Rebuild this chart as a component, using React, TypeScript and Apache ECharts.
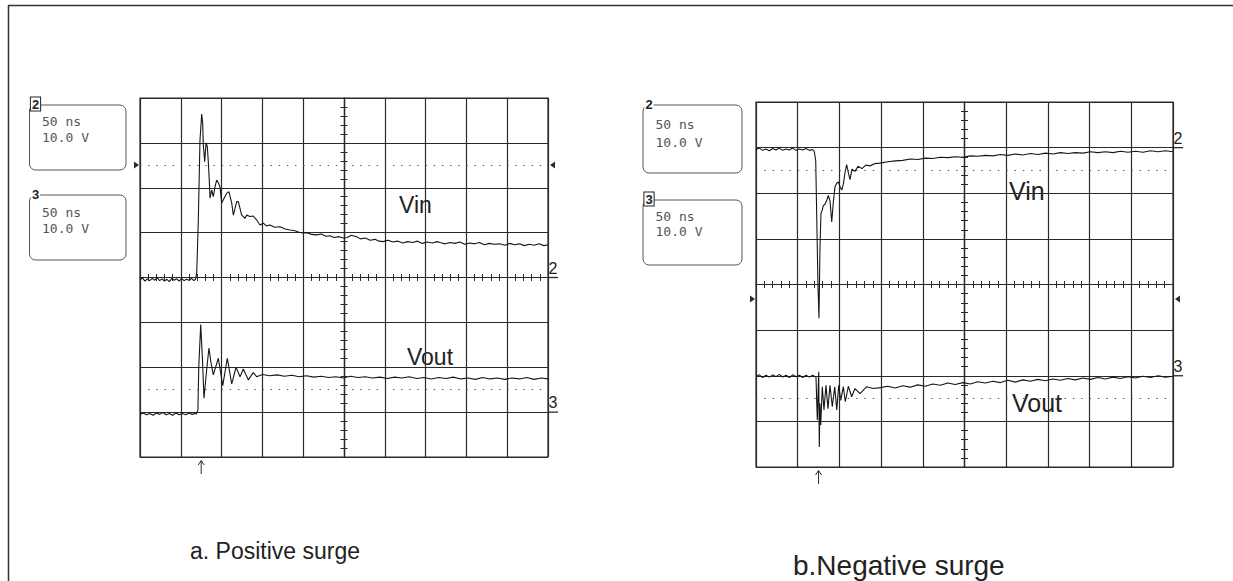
import React, { useEffect, useRef } from "react";
import * as echarts from "echarts";

// ---- data: time (ns, 50 ns/div) and voltage (V, 10 V/div) ----
const posVin: [number, number][] = [
  [-250, -0.5], [-247, -0.1], [-244, -0.8], [-241, -0.3], [-238, -0.7], [-235, -0.2], [-232, -0.6], [-229, 0.0],
  [-226, -0.7], [-223, -0.3], [-220, -0.8], [-217, -0.4], [-214, -0.9], [-211, -0.2], [-208, -0.6], [-205, -0.3],
  [-202, -0.8], [-199, -0.2], [-196, -0.7], [-193, -0.4], [-190, -0.6], [-187, -0.2], [-184, -0.7], [-182, -0.4],
  [-180.5, 1.0], [-178.6, 12.2], [-176.5, 30.6], [-174.4, 36.4], [-173.2, 34.4], [-172.4, 29.5], [-170.7, 25.8],
  [-169.1, 30.0], [-167.5, 29.2], [-166.3, 25.8], [-165.1, 21.7], [-164.2, 17.7], [-162.1, 19.5], [-160.2, 18.0],
  [-158.1, 20.2], [-156.0, 21.7], [-154.0, 21.1], [-152.0, 20.2], [-149.9, 16.6], [-147.9, 17.3], [-143.7, 18.8],
  [-140.9, 19.1], [-137.6, 16.6], [-135.6, 13.9], [-131.5, 16.9], [-129.5, 16.9], [-125.4, 13.9], [-121.3, 13.2],
  [-119.2, 13.9], [-115.2, 13.6], [-111.2, 13.7], [-107.0, 12.8], [-102.9, 11.7], [-98.9, 12.1], [-95, 11.5],
  [-90.7, 11.7], [-85, 11.2], [-78.4, 11.3], [-72, 10.8], [-66.2, 10.6], [-60, 10.4], [-55, 10.1], [-49.9, 9.9],
  [-45, 10.0], [-40, 9.6], [-33.5, 9.5], [-28, 9.7], [-22, 9.2], [-17.2, 9.3], [-12, 8.9], [-6, 9.1], [-0.9, 8.8],
  [4, 8.9], [9, 9.4], [15.6, 9.1], [20, 8.6], [26, 8.8], [32, 8.3], [38, 8.5], [43, 8.1], [47.8, 8.0], [54, 8.3],
  [60, 7.9], [66, 8.1], [72, 7.7], [78, 8.0], [84, 7.8], [90, 8.1], [96, 7.6], [102, 7.9], [108, 7.7], [114, 8.0],
  [117.7, 7.8], [124, 7.5], [130, 7.8], [136, 7.6], [142, 7.9], [148, 7.4], [154, 7.7], [160, 7.5], [166, 7.8],
  [172, 7.3], [178, 7.6], [184, 7.4], [191, 7.5], [197, 7.2], [203, 7.6], [209, 7.3], [215, 7.5], [221, 7.1],
  [227, 7.4], [233, 7.2], [239, 7.5], [245, 7.1], [250, 7.3],
];

const posVout: [number, number][] = [
  [-250, -30.5], [-246, -30.2], [-242, -30.6], [-238, -30.3], [-234, -30.7], [-230, -30.2], [-226, -30.5],
  [-222, -30.1], [-218, -30.6], [-214, -30.3], [-210, -30.7], [-206, -30.2], [-202, -30.6], [-198, -30.3],
  [-194, -30.6], [-190, -30.2], [-186, -30.5], [-183, -30.3], [-181, -30.4],
  [-179, -29.5], [-178, -20], [-175.6, -10.5], [-173.5, -18], [-171.6, -26.9], [-168, -20], [-165.5, -15.7],
  [-163, -19], [-160.2, -21.7], [-154.0, -18.0], [-148.6, -24.1], [-143.0, -18.0], [-137.6, -23.7],
  [-132.3, -20.0], [-127.4, -22.1], [-123.4, -20.4], [-117.3, -22.8], [-111.2, -21.2], [-107.0, -22.1],
  [-100, -21.6], [-91, -21.9], [-82, -21.7], [-73, -22.0], [-64, -21.8], [-55, -22.1], [-46, -21.9], [-37, -22.2],
  [-28, -22.0], [-19, -22.3], [-10, -22.1], [-1, -22.4], [8, -22.0], [17, -22.3], [26, -22.1], [35, -22.4],
  [44, -22.2], [53, -22.5], [62, -22.2], [71, -22.4], [80, -22.1], [89, -22.5], [98, -22.3], [107, -22.6],
  [116, -22.3], [125, -22.5], [134, -22.2], [143, -22.6], [152, -22.4], [161, -22.7], [170, -22.3], [179, -22.6],
  [188, -22.4], [197, -22.7], [206, -22.4], [215, -22.6], [224, -22.3], [233, -22.7], [242, -22.4], [250, -22.6],
];

const negVin: [number, number][] = [
  [-250, 29.6], [-246, 29.9], [-242, 29.4], [-238, 29.7], [-234, 29.3], [-230, 29.8], [-226, 29.5], [-222, 29.9],
  [-218, 29.4], [-214, 29.7], [-210, 29.5], [-206, 29.9], [-202, 29.4], [-198, 29.7], [-194, 29.5], [-190, 29.8],
  [-186, 29.4], [-182, 29.6],
  [-180.1, 29.1], [-178.4, 27.2], [-176.9, 12], [-175.7, 0], [-174.5, -7.4], [-173.3, 8], [-172.1, 15.6],
  [-170.5, 16.3], [-169.3, 17.3], [-167.3, 17.6], [-165.2, 18.4], [-163.3, 19.5], [-161.3, 18.4], [-159.2, 13.7],
  [-157.3, 18], [-155.3, 21.4], [-153.2, 22.2], [-151.3, 22.5], [-149.3, 21.5], [-147.2, 20.7], [-145.3, 22.0],
  [-143.3, 24.5], [-141.3, 26.3], [-139.3, 24.5], [-137.3, 23.0], [-134.9, 25.3], [-131.3, 24.8], [-127.7, 25.9],
  [-122.9, 25.4], [-118.1, 26.2], [-113.3, 26.0], [-107.3, 26.5],
  [-101, 26.6], [-92, 26.9], [-83, 27.1], [-74, 27.2], [-65, 27.5], [-56, 27.4], [-47, 27.7], [-38, 27.6],
  [-29, 27.9], [-20, 27.8], [-11, 28.0], [-2, 27.9], [7, 28.2], [16, 28.1], [25, 28.3], [34, 28.2], [43, 28.5],
  [52, 28.3], [61, 28.6], [70, 28.4], [79, 28.7], [88, 28.5], [97, 28.8], [106, 28.6], [115, 28.9], [124, 28.7],
  [133, 28.9], [142, 28.8], [151, 29.1], [160, 28.9], [169, 29.1], [178, 28.9], [187, 29.2], [196, 29.0],
  [205, 29.2], [214, 29.0], [223, 29.3], [232, 29.1], [241, 29.3], [250, 29.1],
];

const negVout: [number, number][] = [
  [-250, -20.1], [-246, -19.8], [-242, -20.4], [-238, -19.9], [-234, -20.3], [-230, -19.8], [-226, -20.2],
  [-222, -19.7], [-218, -20.3], [-214, -19.9], [-210, -20.4], [-206, -19.8], [-202, -20.2], [-198, -19.9],
  [-194, -20.4], [-190, -19.9], [-186, -20.3], [-182, -19.9], [-180, -20.1],
  [-178.1, -20.2], [-176.5, -29.7], [-174.8, -19.1], [-174.1, -35.6], [-173.3, -26.1], [-172.4, -30.8],
  [-170.5, -22.4], [-168.5, -27.5], [-166.1, -22.1], [-163.7, -27.2], [-161.3, -22.1], [-158.5, -26.8],
  [-155.6, -22.4], [-153.2, -27.5], [-150.8, -22.1], [-148.4, -25.4], [-145.3, -22.4], [-142.9, -25.7],
  [-139.3, -22.3], [-135.3, -24.6], [-131.3, -22.8], [-125.3, -23.9], [-117.3, -22.4], [-109.4, -22.8],
  [-101, -22.6], [-92, -22.3], [-83, -22.7], [-74, -22.2], [-65, -22.5], [-56, -22.0], [-47, -22.3], [-38, -21.8],
  [-29, -22.1], [-20, -21.6], [-11, -21.9], [-2, -21.5], [7, -21.8], [16, -21.3], [25, -21.6], [34, -21.2],
  [43, -21.5], [52, -21.0], [61, -21.4], [70, -20.9], [79, -21.2], [88, -20.8], [97, -21.1], [106, -20.7],
  [115, -21.0], [124, -20.6], [133, -20.9], [142, -20.5], [151, -20.8], [160, -20.4], [169, -20.7], [178, -20.3],
  [187, -20.6], [196, -20.2], [205, -20.5], [214, -20.1], [223, -20.4], [232, -20.0], [241, -20.3], [250, -20.1],
];

const boxLines = ["50 ns", "10.0 V"];
const trigLevels = [25, -25];
const groundLevels = [[0, -30], [30, -20]]; // ch2, ch3 per plot
const panelTitles = ["a. Positive surge", "b.Negative surge"];

const GRIDS = [
  { left: 140, top: 98, width: 408, height: 359 },
  { left: 756, top: 102, width: 417, height: 365 },
];

const INK = "#2a2a2a";

function py(g: any, v: number) {
  return g.top + ((40 - v) / 80) * g.height;
}

function makeAxes(gi: number) {
  const xs: any[] = [];
  const ys: any[] = [];
  const base = gi * 2;
  const line = { color: INK, width: 1.2 };
  for (let k = 0; k < 2; k++) {
    xs.push({
      type: "value", gridIndex: gi, min: -250, max: 250, interval: 50,
      position: k === 0 ? "bottom" : "top",
      axisLine: { show: true, onZero: true, onZeroAxisIndex: base, lineStyle: line },
      axisTick: { show: false },
      minorTick: { show: true, splitNumber: 5, length: 3.5, lineStyle: { color: INK, width: 1 } },
      axisLabel: { show: false },
      splitLine: { show: k === 0, lineStyle: line },
      minorSplitLine: { show: false },
    });
    ys.push({
      type: "value", gridIndex: gi, min: -40, max: 40, interval: 10,
      position: k === 0 ? "left" : "right",
      axisLine: { show: true, onZero: true, onZeroAxisIndex: base, lineStyle: line },
      axisTick: { show: false },
      minorTick: { show: true, splitNumber: 5, length: 3.5, lineStyle: { color: INK, width: 1 } },
      axisLabel: { show: false },
      splitLine: { show: k === 0, lineStyle: line },
      minorSplitLine: { show: false },
    });
  }
  return { xs, ys };
}

function trace(name: string, data: [number, number][], gi: number, withLevels: boolean) {
  const g = GRIDS[gi];
  const p = g.width / 50;
  const s: any = {
    name, type: "line", data, xAxisIndex: gi * 2, yAxisIndex: gi * 2,
    showSymbol: false, symbol: "none", silent: true,
    lineStyle: { color: "#161616", width: 1.1 },
  };
  if (withLevels) {
    s.markLine = {
      silent: true, symbol: ["none", "none"], label: { show: false },
      lineStyle: { type: [1.4, p - 1.4], color: "#555", width: 1 },
      data: trigLevels.map((v) => ({ yAxis: v })),
    };
  }
  return s;
}

function monoText(text: string, x: number, y: number) {
  return { type: "text", style: { text, x, y, font: '13px "DejaVu Sans Mono"', fill: "#555", verticalAlign: "middle" } };
}

function chLabel(text: string, x: number, y: number, boxed: boolean) {
  return {
    type: "text", z: 10,
    style: {
      text, x, y, font: 'bold 13px "Liberation Sans"', fill: "#222", align: "center", verticalAlign: "middle",
      backgroundColor: "#fff", borderColor: boxed ? "#222" : "transparent", borderWidth: boxed ? 1 : 0, padding: [0, 1],
    },
  };
}

function infoBox(x: number, y: number, w: number, h: number, label: string, boxed: boolean, t1: number, t2: number) {
  return [
    { type: "rect", shape: { x, y, width: w, height: h, r: 6 }, style: { fill: "none", stroke: "#555", lineWidth: 1 } },
    chLabel(label, x + 6, y - 1, boxed),
    monoText(boxLines[0], x + 12.5, t1),
    monoText(boxLines[1], x + 12.5, t2),
  ];
}

function markers(gi: number, trigY: number) {
  const g = GRIDS[gi];
  const r = g.left + g.width;
  const els: any[] = [];
  els.push({ type: "polygon", shape: { points: [[g.left - 6, trigY - 3.5], [g.left - 6, trigY + 3.5], [g.left - 1, trigY]] }, style: { fill: INK } });
  els.push({ type: "polygon", shape: { points: [[r + 7, trigY - 3.5], [r + 7, trigY + 3.5], [r + 2, trigY]] }, style: { fill: INK } });
  const labels = ["2", "3"];
  groundLevels[gi].forEach((v, i) => {
    const y = py(g, v);
    els.push({ type: "line", shape: { x1: r, y1: y, x2: r + 10, y2: y }, style: { stroke: INK, lineWidth: 1.3 } });
    els.push({ type: "text", style: { text: labels[i], x: r + 5, y: y - 1.5, font: '16px "Liberation Sans"', fill: "#222", align: "center", verticalAlign: "bottom" } });
  });
  // trigger time arrow at -175 ns
  const ax = g.left + ((-175 + 250) / 500) * g.width;
  const b = g.top + g.height;
  els.push({ type: "line", shape: { x1: ax, y1: b + 4, x2: ax, y2: b + 17 }, style: { stroke: INK, lineWidth: 1 } });
  els.push({ type: "polyline", shape: { points: [[ax - 3, b + 8], [ax, b + 3.5], [ax + 3, b + 8]] }, style: { stroke: INK, lineWidth: 1, fill: "none" } });
  return els;
}

function bigText(text: string, x: number, y: number, size: number) {
  return { type: "text", style: { text, x, y, font: `${size}px "Liberation Sans"`, fill: "#222", verticalAlign: "middle" } };
}

export default function App() {
  const ref = useRef<HTMLDivElement>(null);
  useEffect(() => {
    if (!ref.current) return;
    const chart = echarts.init(ref.current, null, { renderer: "svg" });
    const a0 = makeAxes(0);
    const a1 = makeAxes(1);
    const graphic: any[] = [
      { type: "line", shape: { x1: 8, y1: 5.5, x2: 1233, y2: 5.5 }, style: { stroke: "#333", lineWidth: 1.5 } },
      { type: "line", shape: { x1: 8.5, y1: 5, x2: 8.5, y2: 581 }, style: { stroke: "#333", lineWidth: 1.5 } },
      ...infoBox(29.5, 105, 96.5, 65, "2", true, 121.5, 137),
      ...infoBox(29.5, 195, 96.5, 65, "3", false, 212.5, 228),
      ...infoBox(643, 105, 99, 68, "2", false, 124, 142.5),
      ...infoBox(643, 200, 99, 65, "3", true, 216, 231.5),
      ...markers(0, 165),
      ...markers(1, 299),
      bigText("Vin", 399, 205, 23),
      bigText("Vout", 407, 357, 23),
      bigText("Vin", 1009, 191, 25),
      bigText("Vout", 1012, 403, 25),
      bigText(panelTitles[0], 190, 551, 23),
      bigText(panelTitles[1], 793, 565, 28),
    ];
    chart.setOption({
      animation: false,
      backgroundColor: "#fff",
      grid: GRIDS.map((g) => ({ ...g, show: true, borderColor: INK, borderWidth: 1.2, backgroundColor: "transparent" })),
      xAxis: [...a0.xs, ...a1.xs],
      yAxis: [...a0.ys, ...a1.ys],
      series: [
        trace("Vin", posVin, 0, true),
        trace("Vout", posVout, 0, false),
        trace("Vin", negVin, 1, true),
        trace("Vout", negVout, 1, false),
      ],
      graphic,
    });
    return () => chart.dispose();
  }, []);
  return <div ref={ref} style={{ position: "absolute", left: 0, top: 0, width: 1233, height: 581 }} />;
}
